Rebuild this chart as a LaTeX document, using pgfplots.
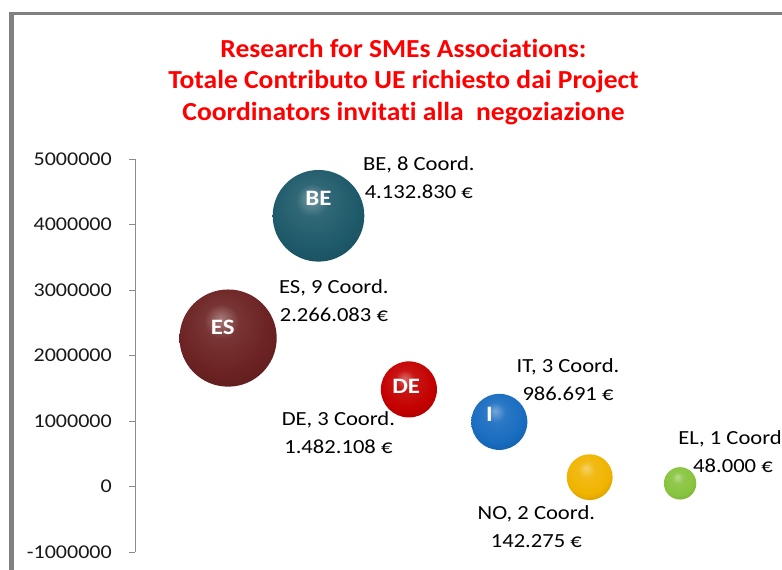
\documentclass[border=0pt]{standalone}
\usepackage{fontspec}
\setmainfont{Carlito}[FakeStretch=1.13,Ligatures=NoCommon]
\newfontfamily\titlefont{Carlito}[FakeStretch=1.06,Ligatures=NoCommon]
\usepackage{pgfplots}
\usepackage{pgfplotstable}
\pgfplotsset{compat=1.18}

% bubble colours
\definecolor{cES}{RGB}{108,34,34}
\definecolor{cBE}{RGB}{30,90,106}
\definecolor{cDE}{RGB}{196,0,0}
\definecolor{cIT}{RGB}{24,108,192}
\definecolor{cNO}{RGB}{240,180,0}
\definecolor{cEL}{RGB}{136,196,62}
\colorlet{ballc}{cBE}

% sphere-like shading, centre colour is ballc
\pgfdeclareradialshading[ballc]{sphere}{\pgfpoint{-4bp}{10bp}}{%
  color(0bp)=(ballc!60!white); color(9bp)=(ballc!92!white);
  color(24bp)=(ballc); color(40bp)=(ballc!78!black); color(60bp)=(ballc!35!black)}

\tikzset{
  datalab/.style={align=center,text=black,font=\fontsize{20}{28}\selectfont},
  bubblelab/.style={text=white,font=\bfseries\fontsize{22}{24}\selectfont},
}

% x = position, y = EU contribution, n = coordinators
\pgfplotstableread{
x y n name
1 2266083 9 ES
2 4132830 8 BE
3 1482108 3 DE
4 986691 3 IT
5 142275 2 NO
6 48000 1 EL
}\coordtab

\begin{document}
\begin{tikzpicture}
\useasboundingbox (0,0) rectangle (782pt,570pt);
\draw[black!50, line width=4.5pt] (11.6pt,-10pt) -- (11.6pt,557.7pt);
\draw[black!50, line width=2.5pt] (9.4pt,556.5pt) -- (800pt,556.5pt);
\node[align=center, text=red, font=\titlefont\bfseries\fontsize{26}{31.7}\selectfont]
  at (403.5pt,488pt) {Research for SMEs Associations:\\Totale Contributo UE richiesto dai Project\\Coordinators invitati alla~ negoziazione};
\begin{axis}[at={(135pt,18pt)},anchor=south west,scale only axis,width=635.5pt,height=393pt,
  xmin=-0.03,xmax=7,ymin=-1000000,ymax=5000000,clip=false,
  axis x line=none,axis y line*=left,
  axis line style={black!45},
  ytick={-1000000,0,1000000,2000000,3000000,4000000,5000000},
  scaled y ticks=false,
  tick align=outside,major tick length=6pt,
  tick style={black!45},
  /pgf/number format/assume math mode=true,
  yticklabel style={/pgf/number format/fixed,/pgf/number format/1000 sep={},
    font=\fontsize{19.5}{20}\selectfont,text=black!90,inner sep=0pt,xshift=-17pt},
]
\addplot[draw=none,mark=none,point meta=explicit symbolic,nodes near coords={},
  visualization depends on={\thisrow{n} \as \ncoord},
  every node near coord/.append style={anchor=center,circle,inner sep=0pt,
    minimum size={32.4pt*sqrt(\ncoord)},
    /utils/exec={\colorlet{ballc}{c\pgfplotspointmeta}},shading=sphere}]
  table[x=x,y=y,meta=name] {\coordtab};

% spots for the names written on the bubbles (drawn after the axis)
\coordinate (lES) at (axis cs:0.94,2427000);
\coordinate (lBE) at (axis cs:2,4397000);
\coordinate (lDE) at (axis cs:2.97,1527000);
\coordinate (lIT) at (axis cs:3.89,1099000);

\node[datalab] at (axis cs:3.11,4718000) {BE, 8 Coord.\\4.132.830 €};
\node[datalab] at (axis cs:2.17,2840000) {ES, 9 Coord.\\2.266.083 €};
\node[datalab] at (axis cs:2.22,824000) {DE, 3 Coord.\\1.482.108 €};
\node[datalab] at (axis cs:4.76,1634000) {IT, 3 Coord.\\986.691 €};
\node[datalab] at (axis cs:4.41,-611000) {NO, 2 Coord.\\142.275 €};
\node[datalab] at (axis cs:6.585,534000) {EL, 1 Coord.\\48.000 €};
\end{axis}
\node[bubblelab] at (lES) {ES};
\node[bubblelab] at (lBE) {BE};
\node[bubblelab] at (lDE) {DE};
\node[bubblelab] at (lIT) {I};
\end{tikzpicture}
\end{document}
